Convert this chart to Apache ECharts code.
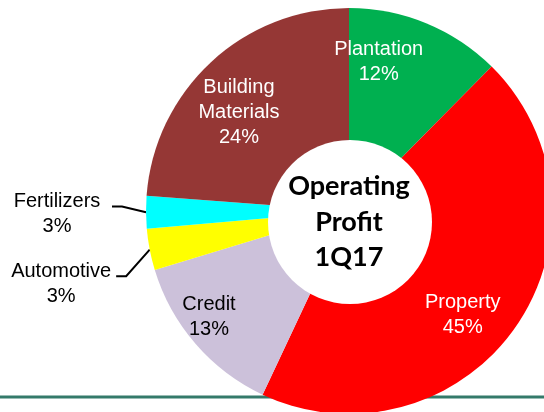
<!DOCTYPE html>
<html>
<head>
<meta charset="utf-8">
<script src="https://cdn.jsdelivr.net/npm/echarts@6/dist/echarts.min.js"></script>
<style>
  html, body { margin: 0; padding: 0; background: #fff; }
  #donut { width: 544px; height: 412px; }
</style>
</head>
<body>
<div id="donut"></div>
<script>
// 数据
var segments = ['Plantation', 'Property', 'Credit', 'Automotive', 'Fertilizers', 'Building Materials'];
var shares = [12.4, 44.6, 13.3, 3.3, 2.6, 23.8];
var segColors = ['#00B050', '#FF0000', '#CCC1DA', '#FFFF00', '#00FFFF', '#953735'];
var centerTitle = ['Operating', 'Profit', '1Q17'];

var labelFont = "'Liberation Sans', Arial, sans-serif";

// 标签微调 (内侧标签相对默认位置的偏移)
var insideNudge = {
    'Plantation': [-10, -52],
    'Property': [28, 44],
    'Credit': [-61, 38],
    'Building Materials': [-39, -22]
};
// 外侧标签引导线上下移动
var outsideShift = { 'Fertilizers': -6, 'Automotive': 22 };

var pieData = segments.map(function (name, i) {
    var item = { name: name, value: shares[i], itemStyle: { color: segColors[i] } };
    if (outsideShift[name] !== undefined) {
        item.label = {
            show: true,
            position: 'outside',
            formatter: function (p) {
                return '{t|' + p.name + '}\n{t|' + p.percent + '%}';
            },
            rich: {
                t: { width: 100, align: 'center', fontSize: 20, lineHeight: 25, color: '#000', fontFamily: labelFont }
            }
        };
        item.labelLine = { show: true, length: 24, length2: 10, lineStyle: { color: '#000', width: 2 } };
    } else {
        item.label = { color: name === 'Credit' ? '#000' : '#fff' };
        item.labelLine = { show: false };
    }
    return item;
});

var myChart = echarts.init(document.getElementById('donut'));
myChart.setOption({
    animation: false,
    series: [{
        type: 'pie',
        z: 2,
        center: [349, 211],
        radius: [0, 203],
        startAngle: 90,
        clockwise: true,
        percentPrecision: 0,
        avoidLabelOverlap: false,
        itemStyle: { borderWidth: 0 },
        emphasis: { disabled: true },
        label: {
            show: true,
            position: 'inside',
            fontSize: 20,
            lineHeight: 25,
            fontFamily: labelFont,
            formatter: function (p) {
                return p.name.replace(' ', '\n') + '\n' + p.percent + '%';
            }
        },
        labelLayout: function (p) {
            var name = segments[p.dataIndex];
            var r = p.labelRect;
            if (outsideShift[name] !== undefined && p.labelLinePoints) {
                var pts = p.labelLinePoints;
                var s = outsideShift[name];
                var np = [
                    [pts[0][0], pts[0][1]],
                    [pts[1][0], pts[1][1] + s],
                    [pts[2][0], pts[2][1] + s]
                ];
                return { x: np[2][0] - 5, y: np[2][1] + 8, labelLinePoints: np };
            }
            var d = insideNudge[name] || [0, 0];
            return { x: r.x + r.width / 2 + d[0], y: r.y + r.height / 2 + d[1] };
        },
        data: pieData
    }],
    graphic: [
        {
            type: 'line',
            z: 0,
            shape: { x1: 0, y1: 397, x2: 544, y2: 397 },
            style: { stroke: '#347A6A', lineWidth: 3 }
        },
        {
            type: 'circle',
            z: 10,
            shape: { cx: 350, cy: 222, r: 82 },
            style: { fill: '#fff' }
        },
        {
            type: 'text',
            z: 11,
            x: 349,
            y: 222,
            style: {
                text: centerTitle.join('\n'),
                fontSize: 27,
                fontWeight: 'bold',
                fontFamily: 'Lato, sans-serif',
                lineHeight: 35.5,
                fill: '#000',
                align: 'center',
                verticalAlign: 'middle'
            }
        }
    ]
});
</script>
</body>
</html>
